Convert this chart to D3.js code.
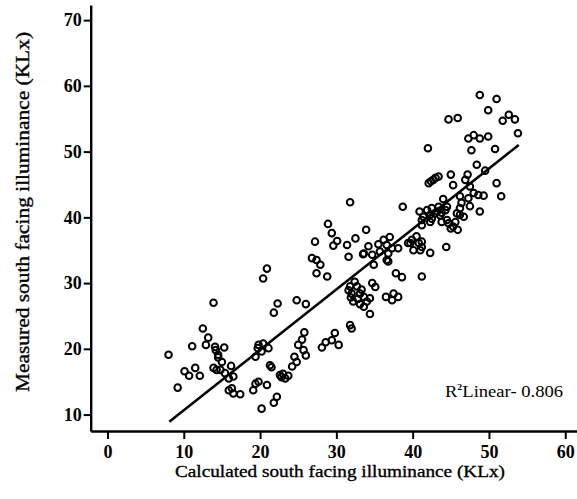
<!DOCTYPE html>
<html>
<head>
<meta charset="utf-8">
<script src="https://cdn.jsdelivr.net/npm/d3@7"></script>
<style>
  body { margin: 0; background: #fff; }
  .tick text { font-family: "Liberation Serif", serif; font-weight: bold; font-size: 18px; }
</style>
</head>
<body>
<div id="canvas"></div>
<script>
const calculated = [
  8.0, 9.2, 10.1, 10.7, 11.5, 12.1, 11.1, 12.9, 12.5, 13.2, 13.9, 14.1, 14.2, 14.5, 14.5, 15.3, 15.0, 13.9, 14.3, 14.8,
  15.4, 16.2, 15.9, 16.5, 15.9, 16.3, 16.5, 17.4, 19.7, 19.8, 20.4, 21.1, 19.4, 20.2, 21.3, 21.5, 19.4, 19.8, 20.9, 19.1,
  22.2, 21.8, 20.2, 20.9, 20.4, 22.3, 21.8, 24.8, 26.0, 22.6, 23.3, 23.7, 22.8, 23.0, 24.2, 24.5, 24.8, 25.8, 25.5, 25.0,
  25.7, 26.0, 26.8, 27.4, 27.9, 27.4, 28.8, 28.1, 28.6, 29.4, 29.8, 30.3, 28.9, 29.4, 27.2, 30.1, 29.6, 31.4, 32.5, 33.9,
  31.8, 31.6, 33.5, 31.8, 32.0, 31.8, 32.7, 32.0, 33.1, 33.6, 32.2, 34.0, 33.6, 34.7, 35.1, 34.4, 34.4, 31.6, 32.4, 33.3,
  31.9, 32.8, 33.1, 36.5, 37.5, 38.1, 37.3, 37.8, 38.6, 41.2, 34.2, 35.5, 36.6, 37.3, 38.1, 33.6, 34.7, 35.7, 36.8, 36.8,
  34.9, 36.2, 37.0, 36.6, 39.4, 39.7, 40.8, 40.1, 42.3, 44.4, 38.7, 39.9, 40.5, 41.2, 41.0, 41.2, 48.8, 51.0, 49.9, 44.7,
  45.9, 52.6, 51.8, 53.4, 53.8, 47.3, 48.0, 48.8, 49.9, 42.0, 47.7, 50.8, 48.4, 49.5, 42.1, 42.4, 42.7, 43.0, 43.4, 45.0,
  45.3, 47.2, 46.9, 51.0, 51.6, 47.5, 48.0, 48.6, 49.3, 47.3, 46.2, 46.4, 47.5, 46.2, 48.8, 44.0, 44.5, 40.9, 41.9, 42.5,
  43.2, 41.4, 42.3, 42.9, 43.8, 41.2, 42.3, 44.7, 45.3, 45.9, 45.0, 46.2, 45.8, 46.7, 45.6, 43.4, 44.3, 43.6, 42.5, 41.2,
  44.5, 43.8
];
const measured = [
  19.1, 14.1, 16.6, 15.9, 17.1, 15.9, 20.4, 20.6, 23.1, 21.7, 27.0, 20.3, 19.8, 19.1, 18.7, 20.2, 18.0, 17.1, 16.8, 16.8,
  16.3, 17.4, 15.5, 15.8, 13.7, 14.0, 13.2, 13.1, 20.1, 20.6, 20.8, 20.1, 18.8, 19.6, 17.5, 17.2, 14.7, 15.0, 14.5, 13.7,
  12.7, 11.8, 10.9, 32.2, 30.7, 26.9, 25.5, 27.4, 26.8, 16.0, 15.5, 15.9, 15.7, 16.2, 17.3, 18.8, 18.0, 22.5, 21.4, 20.6,
  19.8, 19.0, 33.8, 33.5, 32.8, 31.5, 31.0, 20.2, 21.0, 21.3, 22.4, 20.6, 39.0, 37.6, 36.3, 36.4, 35.7, 35.8, 36.8, 38.1,
  42.3, 34.0, 34.4, 23.6, 23.1, 29.5, 29.5, 28.4, 28.4, 27.9, 27.2, 27.2, 26.4, 30.0, 29.4, 27.7, 25.3, 28.9, 30.2, 29.0,
  27.8, 27.6, 26.8, 27.9, 28.4, 27.9, 27.4, 31.5, 30.9, 31.0, 35.6, 35.9, 35.8, 35.3, 35.3, 34.5, 34.3, 34.8, 34.5, 33.3,
  32.8, 36.6, 37.0, 33.5, 36.1, 36.1, 36.1, 35.0, 34.6, 35.5, 41.6, 36.6, 37.1, 36.3, 35.0, 35.5, 58.6, 58.0, 56.3, 54.9,
  55.1, 55.6, 54.7, 54.9, 52.8, 52.0, 52.5, 52.0, 52.3, 50.5, 50.2, 50.4, 48.0, 47.1, 45.2, 45.5, 45.7, 46.0, 46.2, 46.5,
  44.9, 46.5, 45.7, 45.2, 43.2, 44.7, 43.7, 43.4, 43.3, 42.9, 43.2, 42.2, 41.7, 41.4, 40.9, 42.8, 41.6, 40.9, 41.1, 41.4,
  40.9, 40.1, 40.4, 40.6, 40.7, 38.8, 39.3, 39.1, 38.6, 38.1, 38.3, 40.4, 40.6, 40.1, 39.3, 41.6, 41.1, 40.3, 39.8, 39.6,
  39.6, 39.3
];
const xTicks = [0, 10, 20, 30, 40, 50, 60];
const yTicks = [10, 20, 30, 40, 50, 60, 70];
// fitted line end points
const fitX = [8.1, 53.9];
const fitY = [8.9, 51.0];
const r2Label = "0.806";

const width = 577;
const height = 499;

const data = calculated.map((c, i) => ({ x: c, y: measured[i] }));

const svg = d3.select("#canvas").append("svg")
  .attr("width", width)
  .attr("height", height);

const x = d3.scaleLinear().domain([-2.2, 61.5]).range([90.7, 576.7]);
const y = d3.scaleLinear().domain([7.5, 72.3]).range([431, 5]);

svg.append("g")
  .attr("transform", `translate(0,${y(7.5)})`)
  .call(d3.axisBottom(x).tickValues(xTicks).tickSize(8).tickSizeOuter(0).tickPadding(6));

svg.append("g")
  .attr("transform", `translate(${x(-2.2)},0)`)
  .call(d3.axisLeft(y).tickValues(yTicks).tickSize(7).tickSizeOuter(0).tickPadding(2));

svg.selectAll(".domain").attr("stroke", "#000").attr("stroke-width", 2.4);
svg.selectAll(".tick line").attr("stroke", "#000").attr("stroke-width", 2);
svg.selectAll(".tick text").attr("fill", "#000");

// axis titles, stretched to the widths seen in the picture
svg.append("text")
  .attr("x", 175)
  .attr("y", 477)
  .attr("textLength", 330)
  .attr("lengthAdjust", "spacingAndGlyphs")
  .style("font-family", "Liberation Serif, serif")
  .style("font-size", "17px")
  .style("stroke", "#000")
  .style("stroke-width", 0.35)
  .text("Calculated south facing illuminance (KLx)");

svg.append("text")
  .attr("transform", "translate(29,392) rotate(-90)")
  .attr("textLength", 360)
  .attr("lengthAdjust", "spacingAndGlyphs")
  .style("font-family", "Liberation Serif, serif")
  .style("font-size", "18px")
  .style("stroke", "#000")
  .style("stroke-width", 0.35)
  .text("Measured south facing illuminance (KLx)");

svg.append("line")
  .attr("x1", x(fitX[0]))
  .attr("y1", y(fitY[0]))
  .attr("x2", x(fitX[1]))
  .attr("y2", y(fitY[1]))
  .attr("stroke", "#000")
  .attr("stroke-width", 2.5);

svg.selectAll("circle")
  .data(data)
  .enter()
  .append("circle")
  .attr("cx", (d) => x(d.x))
  .attr("cy", (d) => y(d.y))
  .attr("r", 3.3)
  .attr("fill", "none")
  .attr("stroke", "#000")
  .attr("stroke-width", 2);

const r2 = svg.append("text")
  .attr("x", 445)
  .attr("y", 397)
  .attr("textLength", 118)
  .attr("lengthAdjust", "spacingAndGlyphs")
  .style("font-family", "Liberation Serif, serif")
  .style("font-size", "17px");
r2.append("tspan").text("R");
r2.append("tspan").attr("dy", -7).style("font-size", "9px").style("font-weight", "bold").text("2");
r2.append("tspan").attr("dy", 7).text("Linear- " + r2Label);
</script>
</body>
</html>
